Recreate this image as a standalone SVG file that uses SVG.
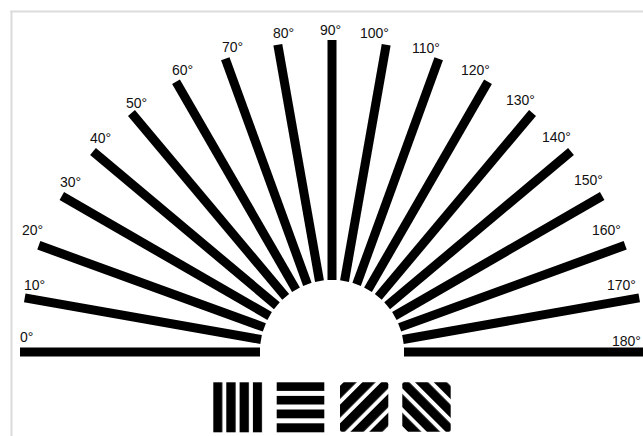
<svg xmlns="http://www.w3.org/2000/svg" width="643" height="436" viewBox="0 0 643 436">
<style>
.bar{fill:#000}
.lbl{font-family:"Liberation Sans",Arial,sans-serif;font-size:14px;fill:#111}
.frame{stroke:#dcdcdc;stroke-width:2;fill:none}
</style>
<defs>
<rect id="b" class="bar" x="-312" y="-4.5" width="240" height="9"/>
<pattern id="vert" patternUnits="userSpaceOnUse" x="213" y="0" width="13.3" height="10">
<rect x="0" y="0" width="9.3" height="10" fill="#000"/>
</pattern>
<pattern id="diagA" patternUnits="userSpaceOnUse" width="13.3" height="10" patternTransform="translate(364 406) rotate(45) translate(-4.65 0)">
<rect x="0" y="0" width="9.3" height="10" fill="#000"/>
</pattern>
<pattern id="diagB" patternUnits="userSpaceOnUse" width="13.3" height="10" patternTransform="translate(426.5 406) rotate(-45) translate(-4.65 0)">
<rect x="0" y="0" width="9.3" height="10" fill="#000"/>
</pattern>
</defs>
<rect width="643" height="436" fill="#fff"/>
<path class="frame" d="M10 11.5H643M11.5 11V436"/>
<g id="fan" transform="translate(332 352)">
<use href="#b" transform="rotate(0)"/>
<use href="#b" transform="rotate(10)"/>
<use href="#b" transform="rotate(20)"/>
<use href="#b" transform="rotate(30)"/>
<use href="#b" transform="rotate(40)"/>
<use href="#b" transform="rotate(50)"/>
<use href="#b" transform="rotate(60)"/>
<use href="#b" transform="rotate(70)"/>
<use href="#b" transform="rotate(80)"/>
<use href="#b" transform="rotate(90)"/>
<use href="#b" transform="rotate(100)"/>
<use href="#b" transform="rotate(110)"/>
<use href="#b" transform="rotate(120)"/>
<use href="#b" transform="rotate(130)"/>
<use href="#b" transform="rotate(140)"/>
<use href="#b" transform="rotate(150)"/>
<use href="#b" transform="rotate(160)"/>
<use href="#b" transform="rotate(170)"/>
<use href="#b" transform="rotate(180)"/>
</g>
<g id="labels" class="lbl">
<text x="20" y="342">0°</text>
<text x="24" y="290">10°</text>
<text x="22" y="235">20°</text>
<text x="60" y="187">30°</text>
<text x="90" y="143">40°</text>
<text x="126" y="108">50°</text>
<text x="172" y="75">60°</text>
<text x="222" y="52">70°</text>
<text x="273" y="38">80°</text>
<text x="320" y="35">90°</text>
<text x="360" y="38">100°</text>
<text x="412" y="53">110°</text>
<text x="461" y="75">120°</text>
<text x="506" y="105">130°</text>
<text x="542" y="142">140°</text>
<text x="574" y="185">150°</text>
<text x="592" y="235">160°</text>
<text x="607" y="290">170°</text>
<text x="612" y="346">180°</text>
</g>
<g id="samples">
<rect id="s-vertical" x="213.3" y="382.3" width="49" height="50" fill="url(#vert)"/>
<g id="s-horizontal" fill="#000">
<rect x="276.7" y="382.3" width="47.6" height="8.6"/>
<rect x="276.7" y="395.9" width="47.6" height="8.6"/>
<rect x="276.7" y="409.5" width="47.6" height="8.8"/>
<rect x="276.7" y="423.3" width="47.6" height="9"/>
</g>
<rect id="s-diag-a" x="340" y="382.3" width="48.3" height="49.5" rx="2" fill="url(#diagA)"/>
<rect id="s-diag-b" x="402.3" y="382.3" width="48.4" height="49.5" rx="2" fill="url(#diagB)"/>
</g>
</svg>
